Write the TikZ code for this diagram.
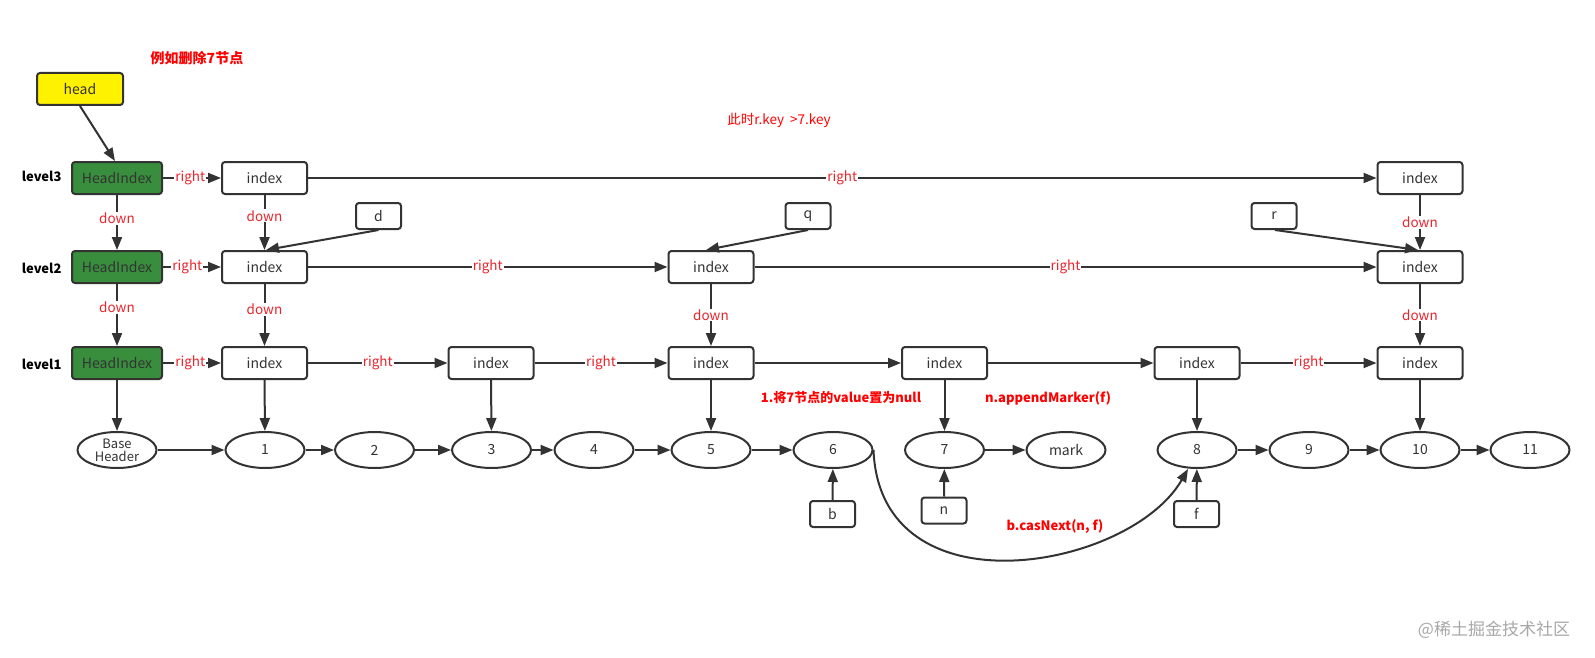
\documentclass[tikz,border=0pt]{standalone}
\usepackage{fontspec}
\setmainfont{Noto Sans CJK SC}
\usetikzlibrary{arrows.meta,shapes.geometric}
\definecolor{ln}{HTML}{333333}
\definecolor{gr}{HTML}{388E3C}
\definecolor{lred}{HTML}{E8262D}
\definecolor{nred}{HTML}{FF0000}
\definecolor{wm}{HTML}{A8A8A8}
\begin{document}
\begin{tikzpicture}[x=1pt,y=-1pt,
  base/.style={draw=ln,line width=2pt,text=ln,inner sep=0pt,font=\fontsize{14}{16}\selectfont},
  idx/.style={base,rounded corners=3pt,minimum width=85pt,minimum height=32pt},
  hidx/.style={idx,fill=gr,minimum width=90pt},
  hd/.style={idx,fill=yellow,minimum width=86pt},
  ptrbox/.style={base,rounded corners=3pt,minimum width=45pt,minimum height=26pt},
  ell/.style={base,ellipse,minimum width=79pt,minimum height=36pt},
  lvl/.style={anchor=east,font=\bfseries\fontsize{13}{15}\selectfont,text=black},
  arr/.style={draw=ln,line width=2pt,-{Triangle[length=13pt,width=10pt]}},
  lbl/.style={font=\fontsize{13.5}{15}\selectfont,text=lred,fill=white,inner sep=1pt},
  note/.style={font=\bfseries\fontsize{13}{15}\selectfont,text=nred}]
\useasboundingbox[fill=white] (0,0) rectangle (1595,658);

% head
\node[hd] (head) at (80,89) {head};
\node[note,font=\bfseries\fontsize{14}{16}\selectfont] (t1) at (197,58) {例如删除7节点};
\node[font=\fontsize{13.5}{15}\selectfont,text=nred] (t2) at (779,120) {此时r.key\ \ >7.key};

% level labels
\node[lvl] (l3) at (65,176) {level3};
\node[lvl] (l2) at (65,268) {level2};
\node[lvl] (l1) at (65,364) {level1};

% head indexes
\node[hidx] (hi3) at (117,178) {HeadIndex};
\node[hidx] (hi2) at (117,267) {HeadIndex};
\node[hidx] (hi1) at (117,363) {HeadIndex};

% index nodes
\node[idx] (i31) at (264.5,178) {index};
\node[idx] (i36) at (1420,178) {index};
\node[idx] (i21) at (264.5,267) {index};
\node[idx] (i23) at (711,267) {index};
\node[idx] (i26) at (1420,267) {index};
\node[idx] (i11) at (264.5,363) {index};
\node[idx] (i12) at (491,363) {index};
\node[idx] (i13) at (711,363) {index};
\node[idx] (i14) at (944.5,363) {index};
\node[idx] (i15) at (1197,363) {index};
\node[idx] (i16) at (1420,363) {index};

% pointer boxes
\node[ptrbox] (d) at (378.5,216) {d};
\node[ptrbox] (q) at (808,216) {q};
\node[ptrbox] (r) at (1274,216) {r};
\node[ptrbox] (b) at (832.5,514) {b};
\node[ptrbox] (n) at (944,510.5) {n};
\node[ptrbox] (f) at (1196.5,514) {f};

% base list
\node[ell,font=\fontsize{13}{14}\selectfont,align=center] (bh) at (117,450) {Base\\[-1pt]Header};
\node[ell] (e1) at (265,450) {1};
\node[ell] (e2) at (374.5,450) {2};
\node[ell] (e3) at (491.5,450) {3};
\node[ell] (e4) at (594,450) {4};
\node[ell] (e5) at (711,450) {5};
\node[ell] (e6) at (833,450) {6};
\node[ell] (e7) at (944.5,450) {7};
\node[ell] (mk) at (1066,450) {mark};
\node[ell] (e8) at (1197,450) {8};
\node[ell] (e9) at (1309,450) {9};
\node[ell] (e10) at (1420,450) {10};
\node[ell] (e11) at (1530,450) {11};

% notes
\node[note] (t3) at (841,398) {1.将7节点的value置为null};
\node[note] (t4) at (1048,398) {n.appendMarker(f)};
\node[note] (t5) at (1055,527) {b.casNext(n, f)};
\node[font=\fontsize{17}{19}\selectfont,text=wm] (wmk) at (1494,630) {@稀土掘金技术社区};

% head pointer
\draw[arr] (head.south) -- ([xshift=-2pt]hi3.north);

% right links
\draw[arr] (hi3) -- node[lbl,pos=0.47]{right} (i31);
\draw[arr] (i31) -- node[lbl]{right} (i36);
\draw[arr] (hi2) -- node[lbl,pos=0.42]{right} (i21);
\draw[arr] (i21) -- node[lbl]{right} (i23);
\draw[arr] (i23) -- node[lbl]{right} (i26);
\draw[arr] (hi1) -- node[lbl,pos=0.47]{right} (i11);
\draw[arr] (i11) -- node[lbl]{right} (i12);
\draw[arr] (i12) -- node[lbl]{right} (i13);
\draw[arr] (i13) -- (i14);
\draw[arr] (i14) -- (i15);
\draw[arr] (i15) -- node[lbl]{right} (i16);

% down links
\draw[arr] (hi3) -- node[lbl,pos=0.42]{down} (hi2);
\draw[arr] (i31) -- node[lbl,pos=0.38]{down} (i21);
\draw[arr] (i36) -- node[lbl,pos=0.5]{down} (i26);
\draw[arr] (hi2) -- node[lbl,pos=0.38]{down} (hi1);
\draw[arr] (i21) -- node[lbl,pos=0.41]{down} (i11);
\draw[arr] (i23) -- node[lbl,pos=0.5]{down} (i13);
\draw[arr] (i26) -- node[lbl,pos=0.5]{down} (i16);

% to base nodes
\draw[arr] (hi1) -- (bh);
\draw[arr] (i11) -- (e1);
\draw[arr] (i12) -- (e3);
\draw[arr] (i13) -- (e5);
\draw[arr] (i14) -- (e7);
\draw[arr] (i15) -- (e8);
\draw[arr] (i16) -- (e10);

% base list links
\draw[arr] (bh) -- (e1);
\draw[arr] (e1) -- (e2);
\draw[arr] (e2) -- (e3);
\draw[arr] (e3) -- (e4);
\draw[arr] (e4) -- (e5);
\draw[arr] (e5) -- (e6);
\draw[arr] (e7) -- (mk);
\draw[arr] (e8) -- (e9);
\draw[arr] (e9) -- (e10);
\draw[arr] (e10) -- (e11);

% pointers
\draw[arr] (b) -- (e6);
\draw[arr] (n) -- (e7);
\draw[arr] (f) -- (e8);
\draw[arr] (d.south) -- ([xshift=1.5pt]i21.north);
\draw[arr] (q.south) -- ([xshift=-5pt]i23.north);
\draw[arr] ([xshift=1pt]r.south) -- ([xshift=-2pt]i26.north);

% casNext curve
\coordinate (c8) at ([xshift=-9pt]e8.south);
\draw[arr] (e6.east) .. controls (880,615) and (1130,570) .. (c8);
\end{tikzpicture}
\end{document}
